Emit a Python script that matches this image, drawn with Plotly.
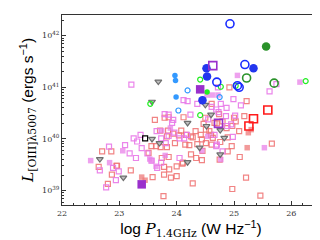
import numpy as np
import plotly.graph_objects as go

# ---- data (x = log P_1.4GHz, y = log L[OIII]) ----
salmon_open_x = [22.70, 22.86, 22.64, 22.80, 22.95, 23.20, 22.96, 22.87, 23.58, 23.77,
                 23.71, 23.85, 23.94, 23.83, 24.04, 24.16, 23.97, 24.15, 23.56, 23.64,
                 23.72, 23.83, 23.51, 23.74, 23.86, 24.10, 23.78, 23.87, 24.00, 23.78,
                 23.90, 24.00, 23.79, 23.86, 24.12, 24.08, 23.62, 24.33, 24.25, 24.42,
                 24.50, 24.47, 24.51, 24.57, 24.60, 24.61, 24.44, 24.28, 24.45, 24.44,
                 24.34, 24.51, 24.63, 24.76, 24.89, 24.96, 24.89, 25.10, 24.75, 25.09,
                 25.66, 25.21, 24.97, 25.46, 24.28, 24.66, 24.74, 24.87, 25.00, 25.03,
                 24.97, 25.18, 25.22, 24.92, 24.61, 24.70, 24.80, 24.22, 24.25, 24.11,
                 24.36]
salmon_open_y = [39.76, 39.76, 39.46, 39.13, 39.48, 39.39, 39.48, 39.31, 39.26, 38.89,
                 40.16, 40.16, 40.10, 40.05, 40.07, 40.08, 39.92, 39.89, 39.86, 39.86,
                 39.84, 39.84, 39.73, 39.63, 39.65, 39.52, 39.46, 39.41, 39.47, 39.31,
                 39.25, 39.28, 40.41, 40.42, 40.42, 40.16, 40.37, 40.15, 40.05, 40.08,
                 40.41, 40.29, 40.18, 40.15, 40.08, 39.89, 39.99, 40.03, 39.77, 39.59,
                 39.63, 39.92, 40.02, 39.94, 40.03, 39.86, 39.76, 39.65, 39.60, 40.15,
                 39.91, 39.25, 39.03, 38.90, 39.14, 40.31, 40.48, 40.21, 40.41, 40.34,
                 40.25, 40.44, 40.73, 41.00, 40.68, 40.30, 40.34, 39.88, 39.70, 39.54,
                 39.90]

salmon_fill_x = [23.39, 25.25, 25.23, 25.30, 23.45]
salmon_fill_y = [39.26, 40.12, 39.83, 40.18, 39.20]

violet_open_x = [23.21, 24.12, 24.99, 25.12, 25.62, 25.74, 24.72, 24.36, 24.61, 24.77,
                 24.87, 24.69, 24.73, 23.86, 23.79, 23.94, 23.92, 23.86, 23.96, 24.05,
                 24.18, 24.13, 23.25, 23.31, 23.37, 23.10, 23.18, 23.29, 23.39, 23.49,
                 22.66, 22.89, 22.99, 22.94, 22.77, 23.56, 23.66, 23.73, 24.66, 24.69,
                 24.80, 24.98, 24.86, 24.88, 24.95, 24.05, 24.19, 23.81, 23.73, 23.65,
                 24.24, 24.70, 24.55, 25.02, 22.82]
violet_open_y = [41.05, 40.75, 40.77, 40.65, 40.92, 41.06, 41.00, 40.68, 40.62, 40.68,
                 40.60, 40.57, 40.52, 40.47, 40.48, 40.37, 40.31, 40.06, 40.12, 40.01,
                 40.08, 40.01, 40.01, 39.95, 40.08, 39.88, 39.72, 39.63, 39.82, 39.72,
                 39.39, 39.44, 39.37, 39.20, 39.06, 39.58, 39.44, 39.54, 40.08, 39.86,
                 39.76, 40.04, 40.44, 40.25, 40.28, 39.63, 40.73, 39.92, 40.01, 40.15,
                 40.47, 39.89, 40.38, 40.45, 39.85]

violet_fill_x = [25.06, 26.15, 24.53, 24.62, 24.72, 23.89, 23.74, 23.57, 22.50, 22.83,
                 23.80, 24.54, 25.53, 23.06, 23.53, 23.64, 24.77, 24.44]
violet_fill_y = [41.23, 41.10, 40.85, 40.85, 40.85, 40.21, 40.16, 39.58, 39.58, 39.54,
                 39.68, 40.05, 39.83, 39.77, 39.61, 39.47, 39.60, 39.77]

tri_x = [23.68, 23.57, 24.19, 24.60, 24.52, 23.57, 23.70, 24.40, 24.83, 24.19,
         24.76, 22.66, 23.07, 24.50, 24.76]
tri_y = [41.11, 40.72, 40.31, 40.47, 40.25, 40.00, 39.92, 39.83, 40.02, 39.55,
         39.70, 39.61, 39.25, 40.66, 40.17]

ltblue_fill_x = [23.97, 23.98, 23.99]
ltblue_fill_y = [41.23, 41.13, 40.81]
ltblue_open_x = [24.19, 24.03, 24.75]
ltblue_open_y = [40.94, 40.55, 40.81]

lime_open_x = [24.41, 23.54, 24.77, 24.41, 26.25, 25.03]
lime_open_y = [41.15, 40.68, 41.01, 40.46, 41.12, 41.03]
lime_fill_x = [24.53]
lime_fill_y = [40.91]

black_open_x = [23.45]
black_open_y = [40.01]

blue_fill_x = [24.52, 24.53, 25.34, 24.45]
blue_fill_y = [41.37, 41.21, 41.37, 40.75]
blue_open_x = [24.93, 25.19, 24.70, 25.06, 25.09]
blue_open_y = [42.23, 41.44, 41.10, 41.03, 41.00]

dgreen_fill_x = [25.56]
dgreen_fill_y = [41.79]
dgreen_open_x = [25.22, 25.70]
dgreen_open_y = [41.18, 41.08]

red_open_x = [25.59, 25.34, 25.26]
red_open_y = [40.56, 40.39, 40.25]

purple_open_x = [24.63, 24.73]
purple_open_y = [41.42, 40.30]
purple_fill_x = [24.41, 23.39]
purple_fill_y = [40.96, 39.12]

xticks = [22, 23, 24, 25, 26]
ytick_exp = [39, 40, 41, 42]


def L(v):
    return [10.0 ** a for a in v]


fig = go.Figure()


def add(x, y, symbol, color, size, lw=1.2):
    fig.add_trace(go.Scatter(
        x=x, y=L(y), mode="markers",
        marker=dict(symbol=symbol, color=color, size=size,
                    line=dict(width=lw, color=color)),
        showlegend=False, hoverinfo="skip"))


add(salmon_open_x, salmon_open_y, "square-open", "rgba(238,110,110,0.85)", 5)
add(salmon_fill_x, salmon_fill_y, "square", "rgba(238,120,120,0.75)", 5.5, 0)
add(violet_open_x, violet_open_y, "square-open", "rgba(232,120,232,0.9)", 5)
add(violet_fill_x, violet_fill_y, "square", "rgba(232,130,232,0.75)", 5.5, 0)
fig.add_trace(go.Scatter(
    x=tri_x, y=L(tri_y), mode="markers",
    marker=dict(symbol="triangle-down", color="rgba(190,190,190,1)", size=6,
                line=dict(width=1.2, color="rgb(110,110,110)")),
    showlegend=False, hoverinfo="skip"))
add(black_open_x, black_open_y, "square-open", "black", 5)
add(ltblue_fill_x, ltblue_fill_y, "circle", "#3399ff", 5.5, 0)
add(ltblue_open_x, ltblue_open_y, "circle-open", "#3399ff", 5)
add(lime_open_x, lime_open_y, "circle-open", "#22ee22", 5)
add(lime_fill_x, lime_fill_y, "circle", "#22ee22", 5.5, 0)
add(blue_fill_x, blue_fill_y, "circle", "#2236ee", 8.5, 0)
add(blue_open_x, blue_open_y, "circle-open", "#1a2cff", 8, 1.6)
add(dgreen_fill_x, dgreen_fill_y, "circle", "#2a922a", 8.5, 0)
add(dgreen_open_x, dgreen_open_y, "circle-open", "#2a922a", 8, 1.6)
add(red_open_x, red_open_y, "square-open", "#ff1a1a", 8, 1.6)
add(purple_open_x, purple_open_y, "square-open", "#9a30cc", 8, 1.6)
add(purple_fill_x, purple_fill_y, "square", "#9a30cc", 8.5, 0)

serif = "DejaVu Serif"
sans = "Liberation Sans"

minor_y = [m * 10.0 ** e for e in range(38, 43) for m in range(2, 10)]

fig.update_xaxes(
    range=[22, 26.5], tickvals=xticks, ticktext=[str(t) for t in xticks],
    ticks="inside", ticklen=4, tickwidth=1, tickcolor="#333",
    minor=dict(ticks="inside", ticklen=2, dtick=0.2, tick0=22, tickcolor="#333"),
    showline=True, linecolor="#333", linewidth=1, mirror=True,
    showgrid=False, zeroline=False,
    tickfont=dict(family=serif, size=8, color="#333"),
    title=dict(text="log <i><span style='font-family:DejaVu Serif'>P</span></i>"
               "<sub><span style='font-family:DejaVu Serif'>1.4GHz</span></sub> (W Hz<sup>−1</sup>)",
               font=dict(family=sans, size=15.5, color="black"), standoff=2))
fig.update_yaxes(
    type="log", range=[38.72, 42.4],
    tickvals=[10.0 ** e for e in ytick_exp],
    ticktext=["10<sup>%d</sup>" % e for e in ytick_exp],
    ticks="inside", ticklen=4, tickwidth=1, tickcolor="#333",
    minor=dict(ticks="inside", ticklen=2, tickvals=minor_y, tickcolor="#333"),
    showline=True, linecolor="#333", linewidth=1, mirror=True,
    showgrid=False, zeroline=False,
    tickfont=dict(family=serif, size=8, color="#333"),
    title=dict(text="<i><span style='font-family:DejaVu Serif'>L</span></i>"
               "<sub><span style='font-family:DejaVu Serif'>[OIII]λ5007</span></sub> (ergs s<sup>−1</sup>)",
               font=dict(family=sans, size=15.5, color="black"), standoff=4))

fig.update_layout(
    width=320, height=240,
    margin=dict(l=54, r=8, t=7, b=43),
    paper_bgcolor="white", plot_bgcolor="white",
)

fig.write_html("out.html")
